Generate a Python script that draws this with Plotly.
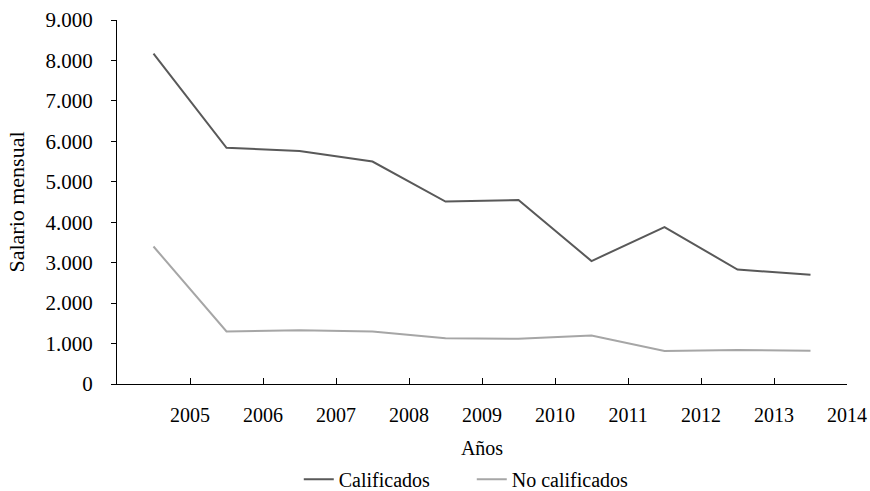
import plotly.graph_objects as go

years = ["2005", "2006", "2007", "2008", "2009", "2010", "2011", "2012", "2013", "2014"]
calificados = [8170, 5840, 5760, 5500, 4510, 4550, 3040, 3880, 2830, 2700]
no_calificados = [3400, 1300, 1330, 1300, 1130, 1120, 1200, 815, 840, 820]

x_pos = [i + 0.5 for i in range(len(years))]
tick_pos = [i + 1 for i in range(len(years))]

FONT = "Liberation Serif, serif"

fig = go.Figure()
fig.add_trace(go.Scatter(x=x_pos, y=calificados, mode="lines", name="Calificados",
                         line=dict(color="#595959", width=2)))
fig.add_trace(go.Scatter(x=x_pos, y=no_calificados, mode="lines", name="No calificados",
                         line=dict(color="#A6A6A6", width=2)))

fig.update_layout(
    width=870, height=491,
    margin=dict(l=117, r=23, t=20, b=107, autoexpand=False),
    paper_bgcolor="white", plot_bgcolor="white",
    separators=",.",
    font=dict(family=FONT, size=20, color="#000000"),
    showlegend=True,
    legend=dict(orientation="h", x=0.486, xanchor="center", y=-0.262, yanchor="middle",
                font=dict(size=20, family=FONT), entrywidth=128),
    xaxis=dict(range=[0, 10], tickmode="array", tickvals=tick_pos, ticktext=years,
               showgrid=False, zeroline=False, showline=True, linecolor="#000000", linewidth=1,
               ticks="inside", ticklen=6, tickcolor="#000000", automargin=False,
               tickfont=dict(family=FONT, size=20),
               title=dict(text="Años", font=dict(size=20, family=FONT), standoff=15),
               ticklabelstandoff=13),
    yaxis=dict(range=[0, 9000], dtick=1000, tickformat=",d", automargin=False,
               showgrid=False, zeroline=False, showline=True, linecolor="#000000", linewidth=1,
               ticks="outside", ticklen=5, tickcolor="#000000", ticklabelstandoff=14,
               tickfont=dict(family=FONT, size=21),
               title=dict(text="Salario mensual", font=dict(size=22, family=FONT), standoff=14)),
)

fig.write_html("out.html", post_script="document.body.style.margin='0';",
               config={"displayModeBar": False})
